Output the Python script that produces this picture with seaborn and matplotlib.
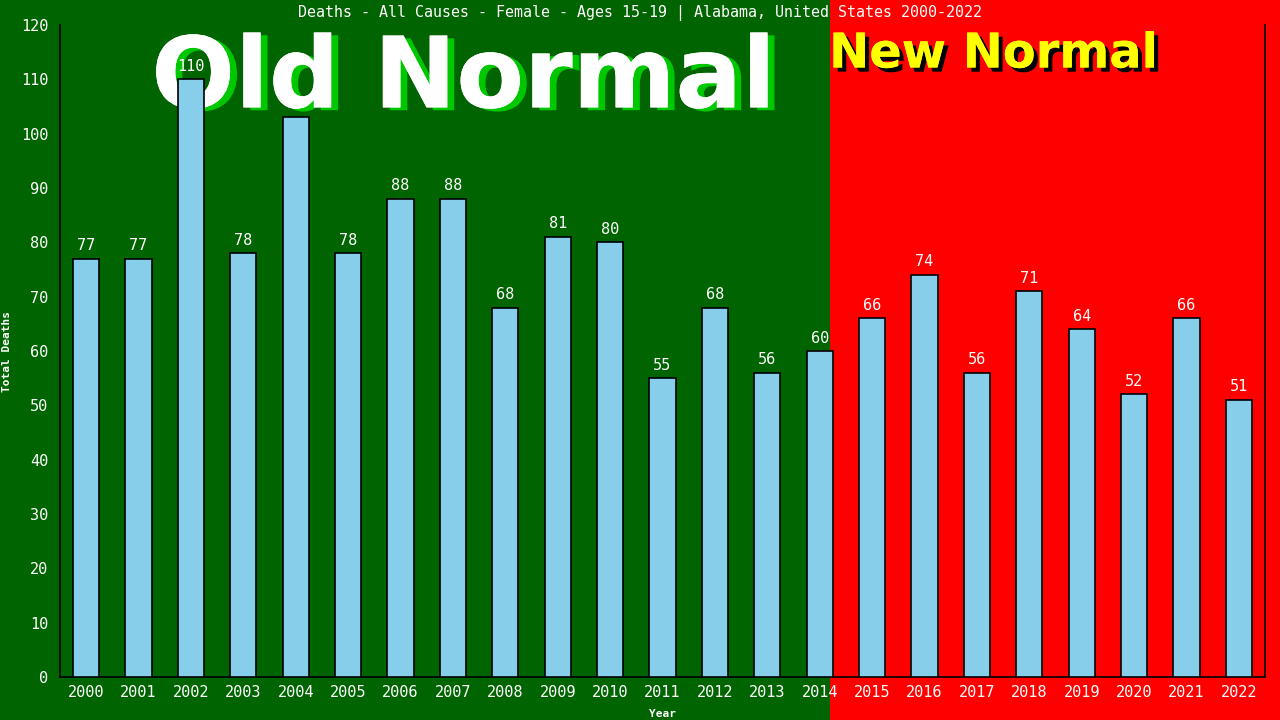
import matplotlib
matplotlib.use('Agg')
import matplotlib.pyplot as plt
import matplotlib.patheffects as pe
from matplotlib.patches import Rectangle
from matplotlib.transforms import blended_transform_factory
import pandas as pd
import seaborn as sns

years = [str(y) for y in range(2000, 2023)]
deaths = [77, 77, 110, 78, 103, 78, 88, 88, 68, 81, 80, 55, 68, 56, 60,
          66, 74, 56, 71, 64, 52, 66, 51]
labels = ['77', '77', '110', '78', '', '78', '88', '88', '68', '81', '80', '55', '68', '56', '60',
          '66', '74', '56', '71', '64', '52', '66', '51']
new_normal_from = 14.2  # boundary between 2014 and 2015 bars

df = pd.DataFrame({'Year': years, 'Deaths': deaths})

sns.set_style('white')
plt.rcParams['font.family'] = ['DejaVu Sans Mono', 'DejaVu Sans']

green = '#006400'
red = '#ff0000'

fig = plt.figure(figsize=(12.8, 7.2), dpi=100, facecolor=green)
ax = fig.add_axes([60 / 1280, 43 / 720, 1205 / 1280, 652 / 720])
ax.set_facecolor('none')

sns.barplot(data=df, x='Year', y='Deaths', color='#87ceeb', width=0.5,
            edgecolor='black', linewidth=1.2, saturation=1, ax=ax, zorder=3)

ax.set_xlim(-0.5, 22.5)
ax.set_ylim(0, 120)
ax.set_yticks(range(0, 121, 10))

# red "New Normal" background over the full figure height
tr = blended_transform_factory(ax.transData, fig.transFigure)
ax.add_patch(Rectangle((new_normal_from, 0), 30, 1, transform=tr,
                       facecolor=red, edgecolor='none', clip_on=False, zorder=0))

# big banner text sits behind the bars
ax.text(0.362, 0.889, 'Old Normal', transform=fig.transFigure, ha='center', va='center',
        color='white', fontsize=71, fontweight='bold', family=['DejaVu Sans'],
        zorder=2, clip_on=False,
        path_effects=[pe.withSimplePatchShadow(offset=(5, -2), shadow_rgbFace='#00c800', alpha=1),
                      pe.Normal()])
ax.text(0.776, 0.925, 'New Normal', transform=fig.transFigure, ha='center', va='center',
        color='#ffff00', fontsize=34.5, fontweight='bold', family=['DejaVu Sans'],
        zorder=2, clip_on=False,
        path_effects=[pe.withSimplePatchShadow(offset=(3, -3), shadow_rgbFace='black', alpha=1),
                      pe.Normal()])

for i, (v, lab) in enumerate(zip(deaths, labels)):
    ax.text(i, v + 1, lab, ha='center', va='bottom', color='white',
            fontsize=11, zorder=5)

ax.spines['top'].set_visible(False)
for s in ['left', 'bottom', 'right']:
    ax.spines[s].set_color('black')
    ax.spines[s].set_linewidth(1.2)

ax.tick_params(axis='y', direction='inout', length=10, colors='black',
               labelcolor='white', labelsize=11)
ax.tick_params(axis='x', length=0, labelcolor='white', labelsize=11, pad=6)
ax.set_xlabel('Year', color='white', fontsize=8, fontweight='bold', labelpad=6)
ax.set_ylabel('Total Deaths', color='white', fontsize=8, fontweight='bold')
ax.yaxis.set_label_coords(-0.04, 0.5)

fig.text(0.5, 0.982, 'Deaths - All Causes - Female - Ages 15-19 | Alabama, United States 2000-2022',
         ha='center', va='center', color='white', fontsize=10.8)

fig.savefig('out.png', dpi=100, facecolor=green)
